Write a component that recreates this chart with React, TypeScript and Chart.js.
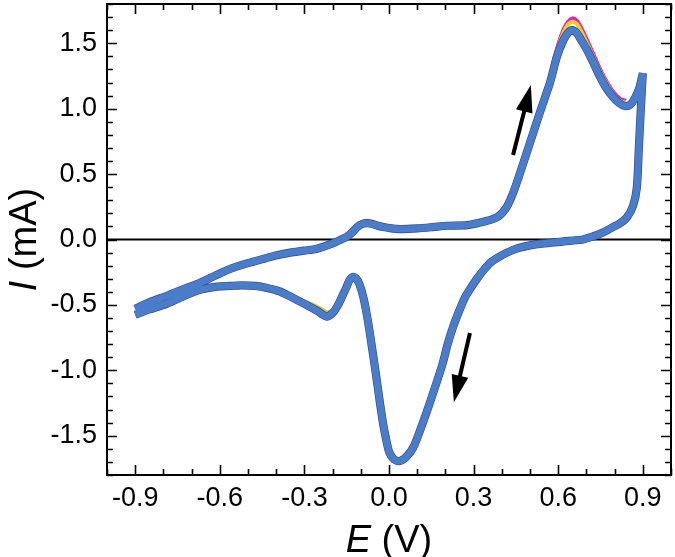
import React, { useEffect, useRef } from "react";
import { Chart, registerables } from "chart.js";

Chart.register(...registerables);

// Anodic (forward) scan, -0.9 V -> 0.9 V
const forwardE = [-0.9, -0.85, -0.787, -0.73, -0.67, -0.62, -0.575, -0.53, -0.482, -0.44, -0.397, -0.35, -0.3, -0.255, -0.2, -0.17, -0.15, -0.13, -0.113, -0.095, -0.078, -0.06, -0.04, -0.02, 0.0, 0.04, 0.1, 0.156, 0.205, 0.277, 0.323, 0.36, 0.383, 0.4, 0.418, 0.44, 0.465, 0.5, 0.535, 0.571, 0.596, 0.62, 0.635, 0.649, 0.665, 0.68, 0.702, 0.725, 0.748, 0.77, 0.794, 0.815, 0.837, 0.855, 0.872, 0.888, 0.9];
const forwardI = [-0.53, -0.48, -0.43, -0.38, -0.33, -0.28, -0.235, -0.2, -0.17, -0.145, -0.12, -0.1, -0.085, -0.07, -0.03, 0.0, 0.02, 0.055, 0.095, 0.118, 0.125, 0.12, 0.105, 0.095, 0.088, 0.08, 0.085, 0.095, 0.105, 0.11, 0.13, 0.15, 0.17, 0.2, 0.25, 0.355, 0.51, 0.74, 0.97, 1.2, 1.4, 1.53, 1.58, 1.6, 1.58, 1.53, 1.45, 1.35, 1.245, 1.16, 1.09, 1.045, 1.02, 1.03, 1.08, 1.16, 1.27];

// Cathodic (reverse) scan, 0.9 V -> -0.9 V
const reverseE = [0.9, 0.893, 0.886, 0.879, 0.866, 0.844, 0.82, 0.794, 0.765, 0.737, 0.71, 0.688, 0.65, 0.606, 0.55, 0.5, 0.455, 0.418, 0.385, 0.358, 0.335, 0.312, 0.29, 0.27, 0.25, 0.227, 0.208, 0.19, 0.16, 0.135, 0.11, 0.086, 0.06, 0.035, 0.015, 0.0, -0.01, -0.02, -0.032, -0.045, -0.06, -0.075, -0.09, -0.105, -0.118, -0.128, -0.14, -0.152, -0.165, -0.178, -0.195, -0.21, -0.22, -0.235, -0.255, -0.28, -0.315, -0.351, -0.39, -0.433, -0.475, -0.518, -0.565, -0.61, -0.67, -0.73, -0.787, -0.85, -0.9];
const reverseI = [1.27, 1.0, 0.7, 0.4, 0.26, 0.17, 0.125, 0.095, 0.06, 0.033, 0.015, 0.0, -0.008, -0.018, -0.03, -0.045, -0.068, -0.1, -0.14, -0.18, -0.235, -0.3, -0.37, -0.44, -0.54, -0.67, -0.8, -0.95, -1.15, -1.31, -1.46, -1.59, -1.665, -1.695, -1.675, -1.62, -1.53, -1.42, -1.25, -1.05, -0.83, -0.62, -0.45, -0.34, -0.295, -0.285, -0.31, -0.37, -0.43, -0.49, -0.55, -0.58, -0.59, -0.575, -0.545, -0.515, -0.475, -0.435, -0.395, -0.37, -0.355, -0.35, -0.355, -0.36, -0.385, -0.435, -0.49, -0.535, -0.575];

// Earlier cycles, visible only as fringes around the oxidation peak
const cycle1E = [0.58, 0.6, 0.62, 0.635, 0.65, 0.665, 0.68, 0.7, 0.725, 0.75, 0.775, 0.8, 0.82, 0.84];
const cycle1I = [1.33, 1.49, 1.61, 1.665, 1.69, 1.675, 1.625, 1.535, 1.415, 1.295, 1.195, 1.115, 1.075, 1.06];
const cycle2E = [0.58, 0.6, 0.62, 0.635, 0.65, 0.665, 0.68, 0.7, 0.725, 0.75, 0.775, 0.8, 0.82, 0.84];
const cycle2I = [1.31, 1.47, 1.59, 1.645, 1.665, 1.65, 1.6, 1.51, 1.395, 1.28, 1.18, 1.1, 1.06, 1.045];
// Fringe around the small reduction dip
const dipE = [-0.32, -0.28, -0.25, -0.22, -0.2, -0.18, -0.16];
const dipI = [-0.455, -0.49, -0.52, -0.555, -0.54, -0.49, -0.43];

const xTickValues = [-0.9, -0.6, -0.3, 0.0, 0.3, 0.6, 0.9];
const xMinorValues = [-1.0, -0.8, -0.7, -0.5, -0.4, -0.2, -0.1, 0.1, 0.2, 0.4, 0.5, 0.7, 0.8, 1.0];
const yTickValues = [-1.5, -1.0, -0.5, 0.0, 0.5, 1.0, 1.5];
const yMinorValues = [-1.8, -1.7, -1.6, -1.4, -1.3, -1.2, -1.1, -0.9, -0.8, -0.7, -0.6, -0.4, -0.3, -0.2, -0.1, 0.1, 0.2, 0.3, 0.4, 0.6, 0.7, 0.8, 0.9, 1.1, 1.2, 1.3, 1.4, 1.6, 1.7, 1.8];

// Scan-direction arrows: [tailE, tailI, tipE, tipI]
const arrowUp = [0.44, 0.645, 0.503, 1.18];
const arrowDown = [0.287, -0.715, 0.23, -1.243];

const FONT = "'Liberation Sans', Arial, sans-serif";

function pts(e: number[], i: number[]) {
  return e.map((v, k) => ({ x: v, y: i[k] }));
}

const decorPlugin = {
  id: "decor",
  beforeDatasetsDraw(chart: any) {
    const { ctx, chartArea: a, scales } = chart;
    const y0 = scales.y.getPixelForValue(0);
    ctx.save();
    ctx.strokeStyle = "#000";
    ctx.lineWidth = 2;
    ctx.beginPath();
    ctx.moveTo(a.left, y0);
    ctx.lineTo(a.right, y0);
    ctx.stroke();
    ctx.restore();
  },
  afterDatasetsDraw(chart: any) {
    const { ctx, chartArea: a, scales } = chart;
    const xs = scales.x;
    const ys = scales.y;
    ctx.save();
    ctx.strokeStyle = "#000";
    ctx.lineWidth = 2;
    ctx.strokeRect(a.left, a.top, a.right - a.left, a.bottom - a.top);
    ctx.lineWidth = 1.6;
    const drawX = (v: number, len: number) => {
      const px = Math.round(xs.getPixelForValue(v)) + 0.5;
      ctx.beginPath();
      ctx.moveTo(px, a.bottom);
      ctx.lineTo(px, a.bottom - len);
      ctx.moveTo(px, a.top);
      ctx.lineTo(px, a.top + len);
      ctx.stroke();
    };
    const drawY = (v: number, len: number) => {
      const py = Math.round(ys.getPixelForValue(v)) + 0.5;
      ctx.beginPath();
      ctx.moveTo(a.left, py);
      ctx.lineTo(a.left + len, py);
      ctx.moveTo(a.right, py);
      ctx.lineTo(a.right - len, py);
      ctx.stroke();
    };
    xTickValues.forEach((v) => drawX(v, 10));
    xMinorValues.forEach((v) => drawX(v, 6));
    yTickValues.forEach((v) => drawY(v, 10));
    yMinorValues.forEach((v) => drawY(v, 6));

    const arrow = (arr: number[]) => {
      const x1 = xs.getPixelForValue(arr[0]);
      const y1 = ys.getPixelForValue(arr[1]);
      const x2 = xs.getPixelForValue(arr[2]);
      const y2 = ys.getPixelForValue(arr[3]);
      const ang = Math.atan2(y2 - y1, x2 - x1);
      const hl = 27;
      const hw = 8.5;
      const bx = x2 - hl * Math.cos(ang);
      const by = y2 - hl * Math.sin(ang);
      ctx.lineWidth = 4;
      ctx.lineCap = "butt";
      ctx.beginPath();
      ctx.moveTo(x1, y1);
      ctx.lineTo(bx + 2 * Math.cos(ang), by + 2 * Math.sin(ang));
      ctx.stroke();
      ctx.fillStyle = "#000";
      ctx.beginPath();
      ctx.moveTo(x2, y2);
      ctx.lineTo(bx + hw * Math.sin(ang), by - hw * Math.cos(ang));
      ctx.lineTo(bx - hw * Math.sin(ang), by + hw * Math.cos(ang));
      ctx.closePath();
      ctx.fill();
    };
    arrow(arrowUp);
    arrow(arrowDown);

    // axis titles with italic symbols
    const drawTitle = (parts: [string, boolean][]) => {
      let w = 0;
      parts.forEach(([t, it]) => {
        ctx.font = `${it ? "italic " : ""}38px ${FONT}`;
        w += ctx.measureText(t).width;
      });
      let x = -w / 2;
      parts.forEach(([t, it]) => {
        ctx.font = `${it ? "italic " : ""}38px ${FONT}`;
        ctx.fillText(t, x, 0);
        x += ctx.measureText(t).width;
      });
    };
    ctx.fillStyle = "#000";
    ctx.textBaseline = "alphabetic";
    ctx.textAlign = "left";
    ctx.save();
    ctx.translate((a.left + a.right) / 2, 552);
    drawTitle([["E", true], [" (V)", false]]);
    ctx.restore();
    ctx.save();
    ctx.translate(36, (a.top + a.bottom) / 2);
    ctx.rotate(-Math.PI / 2);
    drawTitle([["I", true], [" (mA)", false]]);
    ctx.restore();
    ctx.restore();
  },
};

export default function App() {
  const ref = useRef<HTMLCanvasElement | null>(null);
  useEffect(() => {
    if (!ref.current) return;
    const chart = new Chart(ref.current, {
      type: "scatter",
      data: {
        datasets: [
          {
            label: "CV",
            data: [...pts(forwardE, forwardI), ...pts(reverseE, reverseI)],
            showLine: true,
            borderColor: "#4a7dc9",
            borderWidth: 7,
            pointRadius: 0,
            tension: 0.25,
            order: 0,
          },
          {
            label: "CV edge",
            data: [...pts(forwardE, forwardI), ...pts(reverseE, reverseI)],
            showLine: true,
            borderColor: "#34468a",
            borderWidth: 8.2,
            pointRadius: 0,
            tension: 0.25,
            order: 1,
          },
          {
            label: "cycle 2",
            data: pts(cycle2E, cycle2I),
            showLine: true,
            borderColor: "#e8d020",
            borderWidth: 4,
            pointRadius: 0,
            tension: 0.25,
            order: 2,
          },
          {
            label: "cycle 1",
            data: pts(cycle1E, cycle1I),
            showLine: true,
            borderColor: "#e020c8",
            borderWidth: 4,
            pointRadius: 0,
            tension: 0.25,
            order: 3,
          },
          {
            label: "dip fringe",
            data: pts(dipE, dipI),
            showLine: true,
            borderColor: "#d8c030",
            borderWidth: 4,
            pointRadius: 0,
            tension: 0.25,
            order: 2,
          },
        ],
      },
      options: {
        animation: false,
        responsive: false,
        devicePixelRatio: 1,
        layout: { padding: { top: 4, right: 4, left: 0, bottom: 0 } },
        plugins: { legend: { display: false }, tooltip: { enabled: false } },
        scales: {
          x: {
            type: "linear",
            min: -1.0,
            max: 1.0,
            grid: { display: false, drawTicks: false },
            border: { display: false },
            afterBuildTicks: (s: any) => {
              s.ticks = xTickValues.map((v) => ({ value: v }));
            },
            afterFit: (s: any) => {
              s.height = 82;
              s.paddingLeft = 0;
              s.paddingRight = 0;
            },
            ticks: {
              padding: 7,
              color: "#000",
              font: { family: FONT, size: 27 },
              maxRotation: 0,
              autoSkip: false,
              callback: (v: any) => Number(v).toFixed(1),
            },
          },
          y: {
            type: "linear",
            min: -1.8,
            max: 1.8,
            grid: { display: false, drawTicks: false },
            border: { display: false },
            afterBuildTicks: (s: any) => {
              s.ticks = yTickValues.map((v) => ({ value: v }));
            },
            afterFit: (s: any) => {
              s.width = 107;
              s.paddingTop = 0;
              s.paddingBottom = 0;
            },
            ticks: {
              padding: 10,
              color: "#000",
              font: { family: FONT, size: 27 },
              autoSkip: false,
              callback: (v: any) => Number(v).toFixed(1),
            },
          },
        },
      },
      plugins: [decorPlugin],
    });
    return () => chart.destroy();
  }, []);
  return (
    <div style={{ position: "fixed", left: 0, top: 0, width: 675, height: 557, background: "#fff" }}>
      <canvas ref={ref} width={675} height={557} style={{ display: "block" }} />
    </div>
  );
}
